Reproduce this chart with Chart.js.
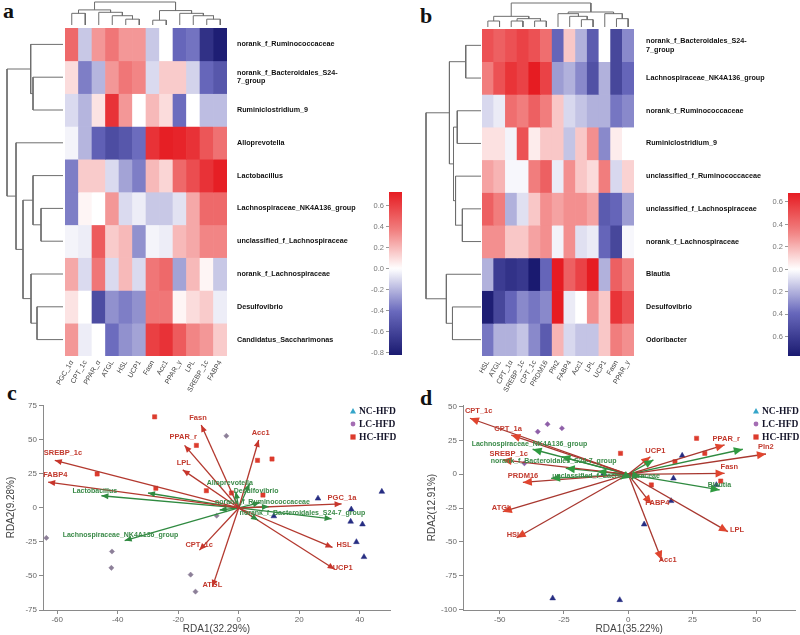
<!DOCTYPE html>
<html><head><meta charset="utf-8">
<script src="https://cdn.jsdelivr.net/npm/chart.js@4.4.0/dist/chart.umd.min.js"></script>
<style>
html,body{margin:0;padding:0;background:#fff;}
#wrap{position:relative;width:800px;height:635px;overflow:hidden;background:#fff;}
#wrap canvas{position:absolute;}
.plab{position:absolute;font-family:"Liberation Serif","DejaVu Serif",serif;font-weight:bold;font-size:22px;line-height:22px;color:#111;}
</style></head>
<body><div id="wrap">
<div class="plab" style="left:3px;top:0px">a</div>
<div class="plab" style="left:420px;top:5px">b</div>
<div class="plab" style="left:7px;top:382px">c</div>
<div class="plab" style="left:420px;top:387px">d</div>
</div>
<script>
// ================= DATA =================
// ---- heatmap a ----
const heatAColumns = ['PGC_1α','CPT_1c','PPAR_α','ATGL','HSL','UCP1','Fasn','Acc1','PPAR_γ','LPL','SREBP_1c','FABP4'];
const heatARows = ['norank_f_Ruminococcaceae',['norank_f_Bacteroidales_S24-','7_group'],'Ruminiclostridium_9','Alloprevotella','Lactobacillus','Lachnospiraceae_NK4A136_group','unclassified_f_Lachnospiraceae','norank_f_Lachnospiraceae','Desulfovibrio','Candidatus_Saccharimonas'];
const heatAValues = [
 [0.45,-0.15,0.3,0.4,0.3,0.3,-0.15,0.0,-0.42,-0.38,-0.7,-0.8],
 [0.1,-0.35,-0.2,0.3,0.4,0.35,-0.1,0.15,0.15,-0.12,-0.42,-0.5],
 [-0.1,-0.2,0.08,0.65,0.3,0.0,0.2,0.1,-0.4,0.0,-0.18,-0.18],
 [-0.03,-0.2,-0.45,-0.55,-0.5,-0.4,0.65,0.72,0.7,0.65,0.52,0.42],
 [-0.35,0.15,0.15,-0.1,-0.25,-0.35,0.2,0.12,0.45,0.55,0.65,0.72],
 [-0.35,0.03,0.0,0.3,-0.1,-0.05,-0.15,-0.15,-0.08,0.25,0.45,0.45],
 [-0.03,-0.05,0.5,0.15,0.2,-0.3,-0.03,-0.05,0.2,0.25,0.35,0.35],
 [0.25,-0.1,0.4,-0.1,0.2,-0.1,0.4,0.45,-0.25,0.2,0.03,-0.15],
 [0.08,0.0,-0.55,-0.3,-0.35,-0.3,0.4,0.4,0.03,0.1,0.15,-0.05],
 [0.3,-0.05,0.0,-0.4,-0.3,-0.25,0.6,0.65,0.5,0.35,0.3,0.15]
];
const heatARange = [-0.82, 0.73];
const colorbarATicks = [-0.8,-0.6,-0.4,-0.2,0,0.2,0.4,0.6];
// dendrograms: [childA, childB, height]; leaves 0..n-1, merge k -> node n+k
const heatAColTree = [[4,5,17],[3,12,27],[2,13,37],[0,1,34],[15,14,44],[6,7,14],[10,11,17],[9,18,27],[8,19,34],[17,20,42],[16,21,67]];
const heatARowTree = [[1,2,30],[0,10,32.3],[5,6,22],[4,12,30],[8,9,26],[7,14,32],[13,15,40],[3,16,47],[11,17,56]];

// ---- heatmap b ----
const heatBColumns = ['HSL','ATGL','CPT_1α','SREBP_1c','CPT_1c','PRDM16','Pln2','FABP4','Acc1','LPL','UCP1','Fasn','PPAR_γ'];
const heatBRows = [['norank_f_Bacteroidales_S24-','7_group'],'Lachnospiraceae_NK4A136_group','norank_f_Ruminococcaceae','Ruminiclostridium_9','unclassified_f_Ruminococcaceae','unclassified_f_Lachnospiraceae','norank_f_Lachnospiraceae','Blautia','Desulfovibrio','Odoribacter'];
const heatBValues = [
 [0.5,0.45,0.5,0.55,0.5,0.4,-0.4,0.15,-0.2,-0.45,0.0,-0.55,-0.3],
 [0.35,0.5,0.6,0.55,0.68,0.55,-0.25,-0.2,-0.3,-0.5,-0.2,-0.55,-0.4],
 [-0.1,-0.05,0.4,0.35,0.45,0.35,0.15,-0.1,-0.15,-0.2,-0.2,-0.35,-0.3],
 [0.08,0.08,-0.03,0.5,0.05,0.15,0.15,-0.15,0.15,0.3,-0.3,0.05,0.0],
 [0.25,0.2,-0.02,-0.02,0.35,0.45,-0.05,0.3,0.15,0.1,0.35,-0.1,0.12],
 [0.45,0.35,-0.2,-0.08,0.15,0.3,0.25,0.3,0.3,0.25,-0.45,-0.4,-0.25],
 [0.3,0.3,0.15,0.15,0.25,0.3,-0.03,0.3,-0.08,-0.05,-0.4,-0.55,-0.02],
 [-0.2,-0.6,-0.65,-0.62,-0.77,-0.4,0.68,0.45,0.55,0.68,-0.2,0.45,0.35],
 [-0.75,-0.55,-0.4,-0.3,-0.35,-0.3,0.68,-0.05,0.0,0.3,0.15,0.6,0.5],
 [-0.35,-0.2,-0.2,-0.15,-0.3,-0.45,0.2,-0.1,-0.15,-0.15,0.15,0.35,0.3]
];
const heatBRange = [-0.77, 0.68];
const colorbarBTicks = [-0.6,-0.4,-0.2,0,0.2,0.4,0.6];
const heatBColTree = [[0,1,18],[2,3,18],[4,5,18],[14,15,25],[13,16,32],[8,9,22],[7,18,32],[6,19,40],[11,12,25],[10,21,40],[20,22,45],[17,23,72]];
const heatBRowTree = [[0,1,15],[2,3,23.3],[5,6,18.3],[4,12,25],[11,13,27],[10,14,31],[8,9,28],[7,16,34],[15,17,54]];

// ---- RDA c ----
const rdaCTitleX = 'RDA1(32.29%)', rdaCTitleY = 'RDA2(9.28%)';
const rdaCXTicks = [-60,-40,-20,0,20,40];
const rdaCYTicks = [-75,-50,-25,0,25,50,75];
const rdaCEnvNames = ['Fasn','Acc1','PPAR_r','LPL','SREBP_1c','FABP4','PGC_1a','HSL','UCP1','CPT_1c','ATGL'];
const rdaCEnvX = [-12.4,6.6,-17.9,-18.5,-60.8,-63,34,31,31.7,-13,-8.7];
const rdaCEnvY = [61,50,46,28,35,19,3,-29,-45,-31,-58];
const rdaCSpNames = ['Lactobacillus','Lachnospiraceae_NK4A136_group','Alloprevotella','Desulfovibrio','norank_f_Ruminococcaceae','norank_f_Bacteroidales_S24-7_group','unclassified_f_Lachnospiraceae','norank_f_Lachnospiraceae','Ruminiclostridium_9','Candidatus_Saccharimonas'];
const rdaCSpX = [-45.4,-37.7,3.6,-1,7,30.7,-30,-6.3,6.4,10];
const rdaCSpY = [9,-24,18,12,4,-8,11,-1.5,-9,1];
const rdaCNCX = [26.2,47.3,37.2,37.0,40.9,38.9,41.4,11.6];
const rdaCNCY = [7,12,-1,-10,-12,-25,-36,-6];
const rdaCLCX = [-63.6,-41.9,-42.1,-15.9,-14.3,-7.3,-4.1];
const rdaCLCY = [-22,-32,-44,-49,-61.5,-5.7,53];
const rdaCHCX = [-27.8,-14,-46.8,6.2,11,-27.4,8,-2.4,-10.7];
const rdaCHCY = [67,46,25,35,36,14.5,9.5,11,12.7];

// ---- RDA d ----
const rdaDTitleX = 'RDA1(35.22%)', rdaDTitleY = 'RDA2(12.91%)';
const rdaDXTicks = [-50,-25,0,25,50];
const rdaDYTicks = [-100,-75,-50,-25,0,25,50];
const rdaDEnvNames = ['CPT_1c','CPT_1a','SREBP_1c','PRDM16','ATGL','HSL','Acc1','LPL','FABP4','Fasn','Pln2','PPAR_r','UCP1'];
const rdaDEnvX = [-61.6,-45.5,-48.9,-41,-48.8,-43.4,13,38.8,9,37.5,53.6,37.5,8.6];
const rdaDEnvY = [41.4,29,10.6,-6,-27.6,-46.9,-63.3,-42.4,-22,0.7,15,21.7,13];
const rdaDSpNames = ['Lachnospiraceae_NK4A136_group','norank_f_Bacteroidales_S24-7_group','unclassified_f_Lachnospiraceae','Blautia','norank_f_Ruminococcaceae','Desulfovibrio','Odoribacter','Ruminiclostridium_9','unclassified_f_Ruminococcaceae','norank_f_Lachnospiraceae'];
const rdaDSpX = [-37.2,-24.3,-30,35.6,-26,44.6,9.8,-3,-12,5];
const rdaDSpY = [18.5,4.4,-3,-11.6,13,18.5,10.6,-3.7,2,-2];
const rdaDNCX = [21,17.6,16.7,6.2,-29.4,-3.3,-9.5,34.3];
const rdaDNCY = [13.8,-3,-19.7,-37,-91.6,-92.9,0.7,-7.9];
const rdaDLCX = [-35.2,-31.4,-25.8,-40.4];
const rdaDLCY = [31.5,37,34,8.1];
const rdaDHCX = [26.6,-3,29.8,18.2,36,9];
const rdaDHCY = [26.6,15.5,15.5,9.3,-5,-7.9];

const groupNames = ['NC-HFD','LC-HFD','HC-HFD'];

// ================= LAYOUT / STYLE =================
const labelOffC_env = {Fasn:[-12,-7],Acc1:[-7,-7],PPAR_r:[-15,-8],LPL:[-6,-7],SREBP_1c:[-11,-7],FABP4:[-5,-7],PGC_1a:[-14,-6],HSL:[4,-2],UCP1:[-2,-1],CPT_1c:[-14,-5],ATGL:[-10,-2]};
const labelOffC_sp = {Lactobacillus:[-29,-5],Lachnospiraceae_NK4A136_group:[-62,-6],Alloprevotella:[-43,0],Desulfovibrio:[-2,-1],norank_f_Ruminococcaceae:[-45,0],'norank_f_Bacteroidales_S24-7_group':[-92,-6]};
const labelOffD_env = {CPT_1c:[-5,-7],CPT_1a:[-17,-6],SREBP_1c:[-13,-6],PRDM16:[-15,-6],ATGL:[-11,-4],HSL:[-10,-3],Acc1:[-3,0],LPL:[2,-2],FABP4:[-6,-1],Fasn:[-4,-6],Pln2:[-8,-7],PPAR_r:[-12,-6],UCP1:[-5,-6]};
const labelOffD_sp = {Lachnospiraceae_NK4A136_group:[-61,-5],'norank_f_Bacteroidales_S24-7_group':[-75,-7],unclassified_f_Lachnospiraceae:[1,-2],Blautia:[-12,-5]};

Chart.defaults.font.family = '"Liberation Sans", Arial, sans-serif';
const baseOpts = {responsive:false, animation:false, devicePixelRatio:1, events:[],
  plugins:{legend:{display:false}, tooltip:{enabled:false}}};

function zeroPad(s){ s.paddingLeft=0; s.paddingRight=0; s.paddingTop=0; s.paddingBottom=0; }

function mkCanvas(left, top, w, h){
  const c = document.createElement('canvas');
  c.width = w; c.height = h;
  c.style.left = left+'px'; c.style.top = top+'px';
  c.style.width = w+'px'; c.style.height = h+'px';
  document.getElementById('wrap').appendChild(c);
  return c;
}

const cmapStops = [[-1,[26,26,112]],[-0.5,[104,104,188]],[0,[255,255,255]],[0.5,[241,128,128]],[1,[230,28,34]]];
function colorFor(v, lo, hi){
  let t = v < 0 ? -(v/lo) : v/hi;
  t = Math.max(-1, Math.min(1, t));
  for (let i=0;i<cmapStops.length-1;i++){
    const [a,ca] = cmapStops[i], [b,cb] = cmapStops[i+1];
    if (t>=a && t<=b){
      const f = (t-a)/(b-a);
      const c = ca.map((x,k)=>Math.round(x+(cb[k]-x)*f));
      return `rgb(${c[0]},${c[1]},${c[2]})`;
    }
  }
  return '#fff';
}

function dendro(n, merges){
  const pos=[], h=[]; const segs=[];
  for (let i=0;i<n;i++){pos[i]=i;h[i]=0;}
  merges.forEach((m,k)=>{
    const [a,b,hh]=m, id=n+k;
    pos[id]=(pos[a]+pos[b])/2; h[id]=hh;
    segs.push([[pos[a],h[a]],[pos[a],hh],[pos[b],hh],[pos[b],h[b]]]);
  });
  return {segs, maxH: merges[merges.length-1][2]};
}

function dendroChart(canvas, n, merges, orient){
  const {segs, maxH} = dendro(n, merges);
  const ds = segs.map(s=>({
    data: s.map(p => orient==='top' ? {x:p[0], y:p[1]} : {x:p[1], y:p[0]}),
    showLine:true, pointRadius:0, borderColor:'#6e6e6e', borderWidth:1, clip:false, fill:false
  }));
  const scales = orient==='top'
    ? {x:{type:'linear',min:-0.5,max:n-0.5,display:false}, y:{type:'linear',min:0,max:maxH,display:false}}
    : {x:{type:'linear',min:0,max:maxH,reverse:true,display:false}, y:{type:'linear',min:-0.5,max:n-0.5,reverse:true,display:false}};
  return new Chart(canvas, {type:'scatter', data:{datasets:ds}, options:{...baseOpts, layout:{padding:1}, scales}});
}

function heatChart(canvas, cols, rows, values, range, rightW, bottomH, labelPad, padLeft){
  const ds = rows.map((r,i)=>({
    data: cols.map(()=>[i-0.5, i+0.5]),
    backgroundColor: values[i].map(v=>colorFor(v, range[0], range[1])),
    borderWidth:0
  }));
  return new Chart(canvas, {type:'bar', data:{labels:cols, datasets:ds},
    options:{...baseOpts, layout:{padding:{left:padLeft, top:0, right:0, bottom:0}},
      datasets:{bar:{grouped:false, barPercentage:1, categoryPercentage:1}},
      scales:{
        x:{type:'category', position:'bottom', grid:{display:false, drawTicks:false}, border:{display:false},
           ticks:{autoSkip:false, minRotation:60, maxRotation:60, padding:3, color:'#444', font:{size:7}},
           afterFit(s){ s.height = bottomH; zeroPad(s); }},
        y:{type:'linear', position:'right', min:-0.5, max:rows.length-0.5, reverse:true,
           grid:{display:false, drawTicks:false}, border:{display:false},
           afterBuildTicks(s){ s.ticks = rows.map((_,i)=>({value:i})); },
           ticks:{padding:labelPad, color:'#111', font:{size:7.2, weight:'bold'}, callback:(v)=>rows[v]},
           afterFit(s){ s.width = rightW; zeroPad(s); }}
      }}});
}

function colorbarChart(canvas, range, ticks, absLabels){
  return new Chart(canvas, {type:'bar', data:{labels:['r'], datasets:[{
      data:[[range[0], range[1]]], borderWidth:0,
      backgroundColor:(c)=>{
        const ch=c.chart; if(!ch.chartArea) return '#fff';
        const ys=ch.scales.y;
        const g=ch.ctx.createLinearGradient(0, ys.getPixelForValue(range[0]), 0, ys.getPixelForValue(range[1]));
        for(let i=0;i<=60;i++){ const v=range[0]+(range[1]-range[0])*i/60; g.addColorStop(i/60, colorFor(v, range[0], range[1])); }
        return g;
      }}]},
    options:{...baseOpts, layout:{padding:{top:0,bottom:7}},
      datasets:{bar:{barPercentage:1, categoryPercentage:1}},
      scales:{
        x:{display:false},
        y:{type:'linear', position:'left', min:range[0], max:range[1],
           grid:{display:true, drawOnChartArea:false, drawTicks:true, tickLength:3, color:'#999'}, border:{display:false},
           afterBuildTicks(s){ s.ticks = ticks.map(v=>({value:v})); },
           ticks:{padding:2, color:'#777', font:{size:7.5},
             callback:(v)=> absLabels ? Math.abs(v).toFixed(1) : v.toFixed(1)},
           afterFit(s){ s.width = 26; zeroPad(s); }}
      }}});
}

function drawHead(ctx, x0,y0,x1,y1,len,w,color){
  const a=Math.atan2(y1-y0,x1-x0);
  ctx.save(); ctx.fillStyle=color; ctx.beginPath();
  ctx.moveTo(x1,y1);
  ctx.lineTo(x1-len*Math.cos(a)+w*Math.sin(a), y1-len*Math.sin(a)-w*Math.cos(a));
  ctx.lineTo(x1-len*Math.cos(a)-w*Math.sin(a), y1-len*Math.sin(a)+w*Math.cos(a));
  ctx.closePath(); ctx.fill(); ctx.restore();
}

function rdaChart(canvas, cfg){
  const arrowDs = (xs, ys, color, w) => xs.map((x,i)=>({data:[{x:0,y:0},{x, y:ys[i]}], showLine:true, pointRadius:0, borderColor:color, borderWidth:w, clip:false}));
  const pts = (xs, ys) => xs.map((x,i)=>({x, y:ys[i]}));
  const datasets = [
    ...arrowDs(cfg.env.x, cfg.env.y, cfg.env.line, 1.3),
    ...arrowDs(cfg.sp.x, cfg.sp.y, cfg.sp.line, 1.3),
    {data:pts(cfg.nc[0],cfg.nc[1]), pointStyle:'triangle', pointRadius:3.3, backgroundColor:'#262d82', borderColor:'#262d82', borderWidth:0.5},
    {data:pts(cfg.lc[0],cfg.lc[1]), pointStyle:'rectRot', pointRadius:2.6, backgroundColor:cfg.lcColor, borderColor:cfg.lcColor, borderWidth:0.5},
    {data:pts(cfg.hc[0],cfg.hc[1]), pointStyle:'rect', pointRadius:3, backgroundColor:'#dc3b2d', borderColor:'#dc3b2d', borderWidth:0.5}
  ];
  const plugin = {id:'rdaDeco'+cfg.key,
    afterDatasetsDraw(chart){
      const ctx=chart.ctx, xs=chart.scales.x, ys=chart.scales.y;
      const ox=xs.getPixelForValue(0), oy=ys.getPixelForValue(0);
      [cfg.env, cfg.sp].forEach(g=>{
        g.x.forEach((vx,i)=> drawHead(ctx, ox, oy, xs.getPixelForValue(vx), ys.getPixelForValue(g.y[i]), cfg.headLen, cfg.headW, g.head));
      });
      [cfg.env, cfg.sp].forEach(g=>{
        ctx.save(); ctx.font=g.font; ctx.fillStyle=g.text; ctx.textAlign='left'; ctx.textBaseline='middle';
        g.names.forEach((n,i)=>{ const o=g.off[n]; if(!o) return;
          ctx.fillText(n, xs.getPixelForValue(g.x[i])+o[0], ys.getPixelForValue(g.y[i])+o[1]); });
        ctx.restore();
      });
      // legend
      const L = cfg.legend; const cols=['#35a5c9','#a46db3','#dc3b2d'];
      ctx.save();
      ctx.font='bold 9.5px "Liberation Serif", "Times New Roman", serif'; ctx.textBaseline='middle'; ctx.textAlign='left';
      groupNames.forEach((name,i)=>{
        const mx = L.x - chart.canvas.offsetLeft, my = L.y + i*L.dy - chart.canvas.offsetTop;
        ctx.fillStyle=cols[i]; ctx.beginPath();
        if(i===0){ ctx.moveTo(mx, my-3); ctx.lineTo(mx+3, my+2.5); ctx.lineTo(mx-3, my+2.5); ctx.closePath(); ctx.fill(); }
        else if(i===1){ ctx.arc(mx, my, 2.4, 0, Math.PI*2); ctx.fill(); }
        else { ctx.fillRect(mx-2.6, my-2.6, 5.2, 5.2); }
        ctx.fillStyle='#15152a'; ctx.fillText(name, mx+6, my+0.5);
      });
      ctx.restore();
    }};
  const axisCommon = {grid:{display:true, drawOnChartArea:false, drawTicks:true, tickLength:4, color:'#8a8a8a'},
    border:{display:true, color:'#8a8a8a', width:1}};
  return new Chart(canvas, {type:'scatter', data:{datasets}, plugins:[plugin],
    options:{...baseOpts, layout:{padding:{top:10, right:cfg.padRight, left:0, bottom:0}},
      scales:{
        x:{type:'linear', min:cfg.xr[0], max:cfg.xr[1], ...axisCommon,
           afterBuildTicks(s){ s.ticks = cfg.xt.map(v=>({value:v})); },
           ticks:{color:'#666', font:{size:8}, padding:1},
           title:{display:true, text:cfg.tx, color:'#444', font:{size:10}, padding:{top:0,bottom:0}},
           afterFit(s){ s.height = 25; zeroPad(s); }},
        y:{type:'linear', min:cfg.yr[0], max:cfg.yr[1], ...axisCommon,
           afterBuildTicks(s){ s.ticks = cfg.yt.map(v=>({value:v})); },
           ticks:{color:'#666', font:{size:8}, padding:2},
           title:{display:true, text:cfg.ty, color:'#444', font:{size:10}, padding:{top:cfg.titlePad, bottom:0}},
           afterFit(s){ s.width = cfg.yW; zeroPad(s); }}
      }}});
}

// ================= BUILD =================
// panel a
dendroChart(mkCanvas(64,1,164,25), heatAColumns.length, heatAColTree, 'top');
dendroChart(mkCanvas(6,27,58,330), heatARows.length, heatARowTree, 'left');
heatChart(mkCanvas(45,28,20+162+155,328+45), heatAColumns, heatARows, heatAValues, heatARange, 155, 45, 10, 20);
colorbarChart(mkCanvas(363,192,39,170), heatARange, colorbarATicks, false);

// panel b
dendroChart(mkCanvas(481,2,154,26), heatBColumns.length, heatBColTree, 'top');
dendroChart(mkCanvas(425,28,57,329), heatBRows.length, heatBRowTree, 'left');
heatChart(mkCanvas(462,29,20+152+150,327+45), heatBColumns, heatBRows, heatBValues, heatBRange, 150, 45, 12, 20);
colorbarChart(mkCanvas(762,193,38,170), heatBRange, colorbarBTicks, true);

// panel c
rdaChart(mkCanvas(0,395,400,240), {key:'c', xr:[-64.7,50], yr:[-75,75.7], xt:rdaCXTicks, yt:rdaCYTicks,
  tx:rdaCTitleX, ty:rdaCTitleY, yW:43, padRight:10, titlePad:5, headLen:7, headW:3,
  env:{names:rdaCEnvNames, x:rdaCEnvX, y:rdaCEnvY, line:'#b3392f', head:'#c8352b', text:'#c2392d', font:'bold 7.5px "Liberation Sans", Arial, sans-serif', off:labelOffC_env},
  sp:{names:rdaCSpNames, x:rdaCSpX, y:rdaCSpY, line:'#2f8a40', head:'#2f8a40', text:'#3a8a48', font:'bold 7px "Liberation Sans", Arial, sans-serif', off:labelOffC_sp},
  nc:[rdaCNCX,rdaCNCY], lc:[rdaCLCX,rdaCLCY], hc:[rdaCHCX,rdaCHCY], lcColor:'#8c7f98',
  legend:{x:353, y:411, dy:13}});

// panel d
rdaChart(mkCanvas(400,395,400,240), {key:'d', xr:[-64.3,65.1], yr:[-100.3,51.2], xt:rdaDXTicks, yt:rdaDYTicks,
  tx:rdaDTitleX, ty:rdaDTitleY, yW:63, padRight:2, titlePad:26, headLen:9, headW:4,
  env:{names:rdaDEnvNames, x:rdaDEnvX, y:rdaDEnvY, line:'#a8372f', head:'#e0452f', text:'#c2392d', font:'bold 7.5px "Liberation Sans", Arial, sans-serif', off:labelOffD_env},
  sp:{names:rdaDSpNames, x:rdaDSpX, y:rdaDSpY, line:'#2f8a40', head:'#2f9a40', text:'#3a8a48', font:'bold 7px "Liberation Sans", Arial, sans-serif', off:labelOffD_sp},
  nc:[rdaDNCX,rdaDNCY], lc:[rdaDLCX,rdaDLCY], hc:[rdaDHCX,rdaDHCY], lcColor:'#8e5fa8',
  legend:{x:756, y:411, dy:13}});
</script></body></html>
